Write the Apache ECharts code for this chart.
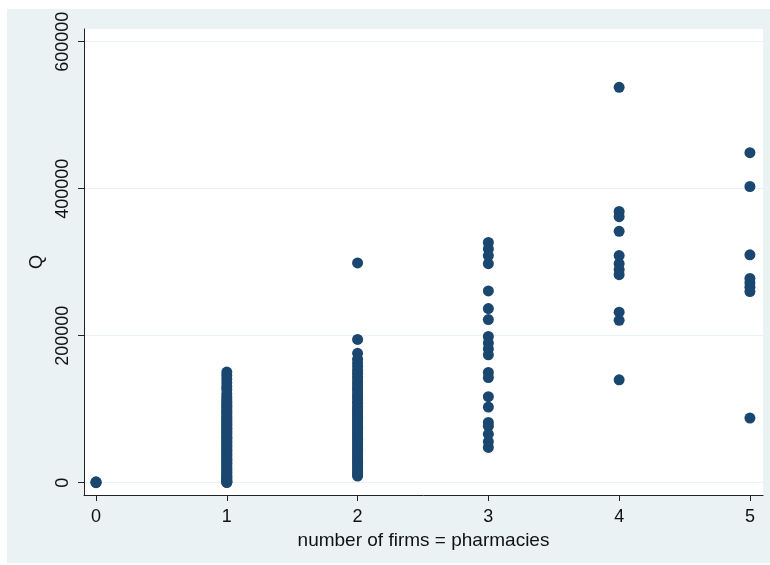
<!DOCTYPE html>
<html>
<head>
<meta charset="utf-8">
<script src="https://cdn.jsdelivr.net/npm/echarts@6/dist/echarts.min.js"></script>
<style>
  html, body { margin: 0; padding: 0; background: #fff; }
  #chart { width: 770px; height: 565px; }
</style>
</head>
<body>
<div id="chart"></div>
<script>
// Q by number of firms (pharmacies), one list per firm count
const firms0 = [0, 600, 1200]
const firms1 = [150500, 146000, 141000, 136000, 131000, 127000, 121000, 117000, 114000, 111000,
  108500, 106000, 104000, 101500, 99000, 97000, 95000, 92500, 90000, 88000, 86500, 84000, 82000,
  80000, 78500, 76000, 74000, 72500, 70000, 68000, 66500, 64000, 62000, 60500, 58000, 56000, 54500,
  52000, 50000, 48500, 46000, 44000, 42500, 40000, 38000, 36500, 34000, 32000, 30500, 28000, 26000,
  24500, 22000, 20000, 18500, 16000, 14000, 12500, 10000, 8500, 7000, 5500, 4000, 2500, 1500, 800, 300]
const firms2 = [299000, 195000, 176000, 168000, 163000, 158000, 153000, 149000, 145000, 141000,
  137000, 133000, 129000, 126000, 122000, 118000, 115000, 111000, 108000, 104000, 101000, 98000,
  95000, 92000, 89000, 86000, 83000, 80000, 77000, 74000, 71000, 68000, 65000, 62000, 59000, 56000,
  53000, 50000, 47000, 44000, 41000, 38000, 35000, 32000, 29000, 26000, 23000, 20000, 17000, 14000,
  11000, 9000]
const firms3 = [327000, 318000, 309000, 298000, 261000, 237000, 222000, 199000, 190000, 182000,
  174000, 150000, 143000, 117000, 103000, 82000, 77000, 66000, 56000, 48000]
const firms4 = [538000, 369000, 362000, 342000, 309000, 298000, 290000, 283000, 232000, 221000, 140000]
const firms5 = [449000, 403000, 310000, 278000, 272000, 266000, 260000, 88000]

const groups = [firms0, firms1, firms2, firms3, firms4, firms5]
const xTicks = [0, 1, 2, 3, 4, 5]
const yTicks = [0, 200000, 400000, 600000]

const points = []
groups.forEach((vals, n) => {
  vals.forEach(q => points.push([n, q]))
})

const txt = { fontFamily: 'Liberation Sans', color: '#111', fontSize: 18 }

const chart = echarts.init(document.getElementById('chart'))
chart.setOption({
  animation: false,
  graphic: [
    {
      type: 'rect',
      z: -10,
      silent: true,
      shape: { x: 7, y: 9, width: 763, height: 554 },
      style: { fill: '#eaf2f3' },
    },
  ],
  grid: {
    left: 84,
    right: 7,
    top: 29,
    bottom: 70,
    show: true,
    backgroundColor: '#fff',
    borderWidth: 0,
  },
  xAxis: {
    type: 'value',
    min: -0.092,
    max: 5.1,
    name: 'number of firms = pharmacies',
    nameLocation: 'middle',
    nameGap: 33,
    nameTextStyle: { ...txt, fontSize: 19 },
    axisLine: { show: true, onZero: false, lineStyle: { color: '#222', width: 1 } },
    axisTick: { show: true, length: 6, customValues: xTicks, lineStyle: { color: '#222' } },
    axisLabel: { customValues: xTicks, margin: 13, ...txt },
    splitLine: { show: false },
  },
  yAxis: {
    type: 'value',
    min: -16700,
    max: 617300,
    name: 'Q',
    nameLocation: 'middle',
    nameGap: 34,
    nameRotate: 90,
    nameTextStyle: txt,
    axisLine: { show: true, onZero: false, lineStyle: { color: '#222', width: 1 } },
    axisTick: { show: true, length: 6, customValues: yTicks, lineStyle: { color: '#222' } },
    axisLabel: { customValues: yTicks, rotate: 90, margin: 12, formatter: v => String(v), ...txt },
    splitLine: { show: true, lineStyle: { color: '#eaf2f3', width: 1 } },
  },
  series: [
    {
      type: 'scatter',
      symbol: 'circle',
      symbolSize: 11,
      itemStyle: { color: '#1a476f', opacity: 1 },
      data: points,
    },
  ],
})
</script>
</body>
</html>
